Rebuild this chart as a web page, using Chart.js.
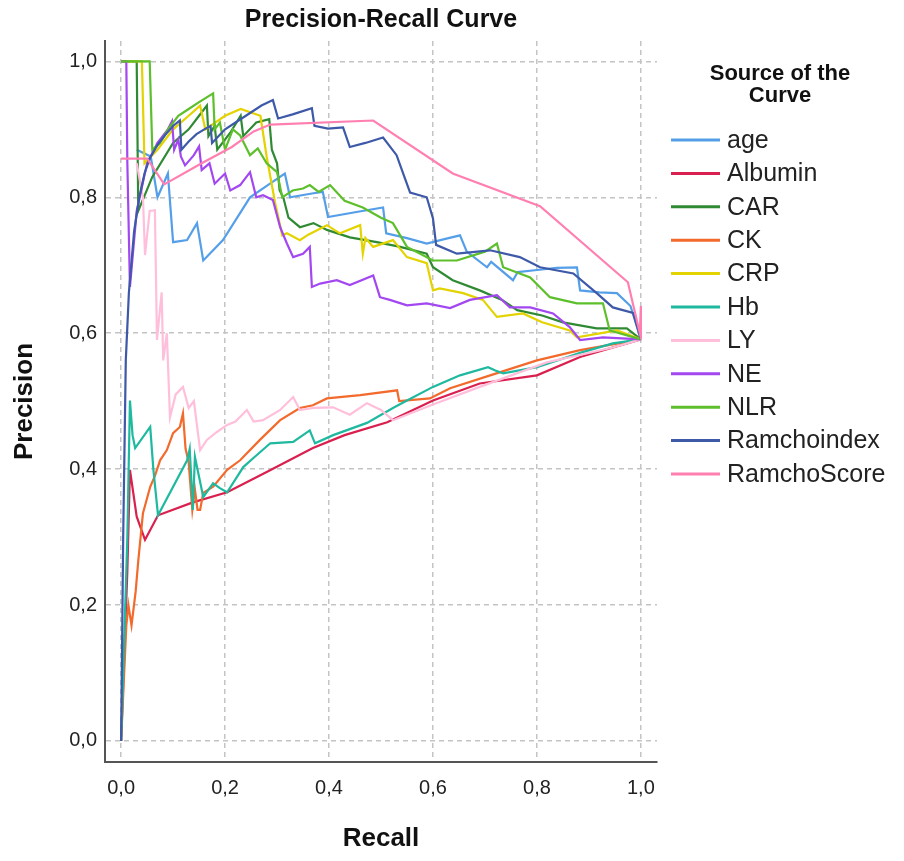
<!DOCTYPE html>
<html>
<head>
<meta charset="utf-8">
<script src="https://cdn.jsdelivr.net/npm/chart.js@4"></script>
<style>
  html, body { margin: 0; padding: 0; background: #fff; }
  #wrap { width: 904px; height: 861px; }
</style>
</head>
<body>
<div id="wrap"><canvas id="prChart" width="904" height="861"></canvas></div>
<script>
// tick values / labels
const tickValues = [0, 0.2, 0.4, 0.6, 0.8, 1.0];
const tickLabels = ['0,0', '0,2', '0,4', '0,6', '0,8', '1,0'];

const seriesNames = ['age', 'Albumin', 'CAR', 'CK', 'CRP', 'Hb', 'LY', 'NE', 'NLR', 'Ramchoindex', 'RamchoScore'];
const seriesColors = ['#559fe8', '#d9204e', '#2f8a33', '#f26a2c', '#e3d300', '#1fb9a0', '#ffbfda', '#a347f0', '#5dbf2b', '#3d59a8', '#ff7fb1'];

// [recall, precision] pairs
const age = [[0.03,0.87],[0.057,0.86],[0.07,0.8],[0.09,0.835],[0.1,0.734],[0.127,0.737],[0.146,0.762],[0.158,0.707],[0.196,0.737],[0.248,0.8],[0.29,0.822],[0.315,0.835],[0.325,0.8],[0.37,0.806],[0.388,0.808],[0.398,0.771],[0.45,0.778],[0.504,0.785],[0.51,0.747],[0.55,0.74],[0.588,0.732],[0.62,0.738],[0.652,0.744],[0.665,0.72],[0.704,0.697],[0.712,0.705],[0.754,0.678],[0.763,0.69],[0.8,0.693],[0.838,0.696],[0.877,0.697],[0.883,0.663],[0.92,0.66],[0.954,0.659],[0.98,0.64],[1,0.591]];
const albumin = [[0,0],[0.012,0.25],[0.017,0.399],[0.03,0.33],[0.046,0.296],[0.071,0.332],[0.138,0.351],[0.204,0.366],[0.281,0.396],[0.369,0.431],[0.43,0.45],[0.512,0.469],[0.6,0.501],[0.69,0.526],[0.8,0.538],[0.883,0.565],[1,0.591]];
const car = [[0,1],[0.03,1],[0.033,0.78],[0.06,0.83],[0.1,0.88],[0.13,0.9],[0.15,0.92],[0.165,0.935],[0.168,0.89],[0.18,0.905],[0.185,0.87],[0.21,0.895],[0.23,0.92],[0.235,0.89],[0.26,0.91],[0.285,0.915],[0.29,0.87],[0.3,0.85],[0.305,0.81],[0.312,0.8],[0.322,0.77],[0.344,0.756],[0.37,0.762],[0.396,0.752],[0.44,0.741],[0.492,0.734],[0.537,0.727],[0.588,0.717],[0.6,0.697],[0.638,0.678],[0.69,0.663],[0.733,0.649],[0.762,0.634],[0.81,0.626],[0.85,0.616],[0.915,0.607],[0.973,0.607],[1,0.591]];
const ck = [[0,0],[0.01,0.17],[0.014,0.2],[0.02,0.17],[0.028,0.22],[0.033,0.265],[0.042,0.335],[0.056,0.374],[0.065,0.39],[0.075,0.413],[0.088,0.428],[0.1,0.453],[0.113,0.462],[0.119,0.482],[0.124,0.43],[0.13,0.41],[0.137,0.34],[0.142,0.37],[0.147,0.34],[0.152,0.34],[0.158,0.365],[0.177,0.374],[0.204,0.399],[0.229,0.413],[0.267,0.443],[0.306,0.472],[0.344,0.49],[0.369,0.494],[0.396,0.504],[0.46,0.509],[0.531,0.516],[0.535,0.5],[0.594,0.504],[0.633,0.519],[0.71,0.538],[0.8,0.56],[0.883,0.575],[1,0.591]];
const crp = [[0,1],[0.04,1],[0.045,0.85],[0.07,0.87],[0.1,0.9],[0.13,0.92],[0.152,0.935],[0.162,0.9],[0.2,0.92],[0.23,0.93],[0.268,0.92],[0.28,0.86],[0.296,0.793],[0.31,0.744],[0.319,0.747],[0.344,0.737],[0.36,0.745],[0.396,0.759],[0.421,0.747],[0.46,0.759],[0.465,0.717],[0.47,0.74],[0.485,0.727],[0.523,0.737],[0.55,0.712],[0.588,0.703],[0.6,0.663],[0.613,0.666],[0.658,0.659],[0.696,0.649],[0.723,0.624],[0.773,0.629],[0.81,0.616],[0.863,0.604],[0.877,0.594],[0.954,0.604],[1,0.591]];
const hb = [[0,0],[0.012,0.3],[0.017,0.501],[0.022,0.45],[0.027,0.431],[0.056,0.462],[0.062,0.4],[0.071,0.332],[0.127,0.413],[0.132,0.43],[0.138,0.34],[0.142,0.418],[0.158,0.359],[0.177,0.379],[0.19,0.372],[0.204,0.366],[0.235,0.403],[0.254,0.416],[0.287,0.438],[0.331,0.44],[0.363,0.457],[0.373,0.438],[0.408,0.45],[0.473,0.468],[0.523,0.49],[0.55,0.501],[0.6,0.521],[0.652,0.538],[0.706,0.55],[0.72,0.545],[0.735,0.541],[0.8,0.55],[0.883,0.571],[0.946,0.585],[1,0.591]];
const ly = [[0.03,0.85],[0.042,0.8],[0.046,0.715],[0.055,0.78],[0.065,0.781],[0.069,0.59],[0.078,0.66],[0.081,0.56],[0.088,0.6],[0.094,0.476],[0.105,0.51],[0.119,0.521],[0.13,0.49],[0.14,0.5],[0.152,0.428],[0.165,0.443],[0.185,0.455],[0.204,0.465],[0.22,0.47],[0.242,0.487],[0.255,0.47],[0.273,0.472],[0.306,0.487],[0.331,0.506],[0.344,0.487],[0.37,0.49],[0.408,0.491],[0.44,0.48],[0.473,0.497],[0.5,0.487],[0.523,0.472],[0.6,0.495],[0.69,0.521],[0.819,0.557],[0.946,0.579],[1,0.591]];
const ne = [[0,1],[0.01,1],[0.012,0.85],[0.017,0.668],[0.03,0.78],[0.05,0.85],[0.07,0.88],[0.09,0.9],[0.098,0.912],[0.102,0.87],[0.11,0.885],[0.115,0.86],[0.123,0.847],[0.14,0.862],[0.15,0.875],[0.155,0.84],[0.17,0.85],[0.18,0.82],[0.2,0.835],[0.21,0.81],[0.229,0.818],[0.248,0.837],[0.26,0.8],[0.273,0.803],[0.292,0.796],[0.306,0.756],[0.319,0.732],[0.331,0.712],[0.35,0.717],[0.363,0.727],[0.367,0.668],[0.383,0.673],[0.415,0.678],[0.44,0.671],[0.485,0.685],[0.498,0.653],[0.517,0.649],[0.55,0.641],[0.588,0.644],[0.633,0.637],[0.671,0.649],[0.723,0.656],[0.748,0.638],[0.787,0.638],[0.831,0.629],[0.863,0.609],[0.883,0.59],[0.927,0.594],[1,0.591]];
const nlr = [[0,1],[0.055,1],[0.06,0.87],[0.075,0.88],[0.09,0.9],[0.11,0.92],[0.13,0.93],[0.15,0.94],[0.177,0.953],[0.18,0.9],[0.19,0.91],[0.2,0.87],[0.215,0.9],[0.229,0.891],[0.248,0.862],[0.263,0.872],[0.28,0.85],[0.3,0.837],[0.31,0.8],[0.33,0.81],[0.35,0.813],[0.363,0.818],[0.38,0.808],[0.402,0.818],[0.43,0.795],[0.465,0.785],[0.5,0.77],[0.523,0.762],[0.55,0.727],[0.6,0.707],[0.646,0.707],[0.7,0.72],[0.723,0.732],[0.735,0.697],[0.787,0.682],[0.825,0.653],[0.877,0.644],[0.927,0.644],[0.94,0.604],[1,0.591]];
const ramchoIndex = [[0,0],[0.004,0.3],[0.009,0.56],[0.015,0.66],[0.025,0.75],[0.035,0.8],[0.045,0.835],[0.055,0.857],[0.07,0.877],[0.085,0.892],[0.1,0.905],[0.113,0.913],[0.116,0.87],[0.13,0.882],[0.145,0.893],[0.16,0.9],[0.172,0.905],[0.175,0.88],[0.2,0.9],[0.24,0.92],[0.27,0.935],[0.292,0.943],[0.302,0.916],[0.33,0.922],[0.367,0.931],[0.372,0.905],[0.398,0.901],[0.427,0.903],[0.44,0.874],[0.47,0.88],[0.504,0.888],[0.53,0.862],[0.545,0.83],[0.556,0.807],[0.588,0.8],[0.6,0.769],[0.606,0.73],[0.646,0.717],[0.71,0.722],[0.767,0.712],[0.806,0.697],[0.87,0.688],[0.915,0.659],[0.946,0.638],[0.985,0.63],[1,0.591]];
const ramchoScore = [[0,0.857],[0.05,0.857],[0.083,0.819],[0.155,0.85],[0.213,0.874],[0.255,0.897],[0.287,0.907],[0.485,0.913],[0.638,0.835],[0.806,0.787],[0.975,0.675],[0.998,0.6],[1,0.64],[1,0.591]];

const seriesData = [age, albumin, car, ck, crp, hb, ly, ne, nlr, ramchoIndex, ramchoScore];

const FONT = '"Liberation Sans", Arial, sans-serif';

const datasets = seriesNames.map((name, i) => ({
    label: name,
    data: seriesData[i].map(p => ({ x: p[0], y: p[1] })),
    borderColor: seriesColors[i],
    backgroundColor: seriesColors[i],
    borderWidth: 2.2,
    pointRadius: 0,
    showLine: true,
    tension: 0,
    order: seriesNames.length - i
}));

// legend drawn by hand so it can carry the two-line title
const sideLegend = {
    id: 'sideLegend',
    afterDraw(chart) {
        const ctx = chart.ctx;
        ctx.save();
        ctx.fillStyle = '#111';
        ctx.textAlign = 'center';
        ctx.textBaseline = 'middle';
        ctx.font = 'bold 22px ' + FONT;
        ctx.fillText('Source of the', 780, 74);
        ctx.fillText('Curve', 780, 96);
        ctx.textAlign = 'left';
        ctx.font = '25px ' + FONT;
        chart.data.datasets.forEach((ds, i) => {
            const y = 140 + i * 33.4;
            ctx.strokeStyle = ds.borderColor;
            ctx.lineWidth = 3;
            ctx.beginPath();
            ctx.moveTo(671, y);
            ctx.lineTo(720, y);
            ctx.stroke();
            ctx.fillStyle = '#222';
            ctx.fillText(ds.label, 727, y + 1);
        });
        ctx.restore();
    }
};

const fixTicks = scale => { scale.ticks = tickValues.map(v => ({ value: v })); };
const fmt = v => tickLabels[tickValues.findIndex(t => Math.abs(t - v) < 1e-6)];

const ctx = document.getElementById('prChart').getContext('2d');
const prChart = new Chart(ctx, {
    type: 'scatter',
    data: { datasets: datasets },
    plugins: [sideLegend],
    options: {
        responsive: false,
        animation: false,
        layout: { padding: { left: 0, right: 247, top: 0, bottom: 0 } },
        plugins: {
            legend: { display: false },
            tooltip: { enabled: false },
            title: {
                display: true,
                fullSize: false,
                text: 'Precision-Recall Curve',
                color: '#111',
                font: { family: FONT, size: 25, weight: 'bold' },
                padding: { top: 5, bottom: 6 }
            }
        },
        scales: {
            x: {
                type: 'linear',
                min: -0.031,
                max: 1.031,
                afterBuildTicks: fixTicks,
                afterFit: s => { s.height = 99; },
                grid: { color: '#c4c4c4', lineWidth: 1.5, drawTicks: false },
                border: { color: '#555', width: 2, dash: [5, 4] },
                ticks: {
                    callback: fmt,
                    color: '#222',
                    padding: 14,
                    maxRotation: 0,
                    font: { family: FONT, size: 20 }
                },
                title: {
                    display: true,
                    text: 'Recall',
                    color: '#111',
                    font: { family: FONT, size: 26, weight: 'bold' },
                    padding: { top: 0, bottom: 7 }
                }
            },
            y: {
                type: 'linear',
                min: -0.031,
                max: 1.03,
                afterBuildTicks: fixTicks,
                afterFit: s => { s.width = 105; },
                grid: { color: '#c4c4c4', lineWidth: 1.5, drawTicks: false },
                border: { color: '#555', width: 2, dash: [5, 4] },
                ticks: {
                    callback: fmt,
                    color: '#222',
                    padding: 8,
                    font: { family: FONT, size: 20 }
                },
                title: {
                    display: true,
                    text: 'Precision',
                    color: '#111',
                    font: { family: FONT, size: 26, weight: 'bold' },
                    padding: { top: 9, bottom: 0 }
                }
            }
        }
    }
});
</script>
</body>
</html>
